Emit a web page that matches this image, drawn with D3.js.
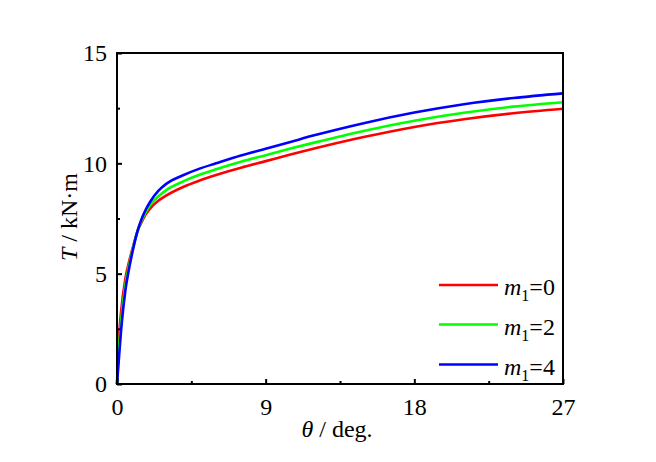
<!DOCTYPE html>
<html><head><meta charset="utf-8">
<script src="https://cdn.jsdelivr.net/npm/d3@7/dist/d3.min.js"></script>
<style>body{margin:0;background:#fff}svg{display:block}svg text{font-family:"Liberation Serif","Times New Roman",serif;fill:#000}</style>
</head><body><svg id="c" width="656" height="462"></svg>
<script>
const theta = [0, 0.1, 0.25, 0.5, 0.75, 1.0, 1.25, 1.5, 1.75, 2.0, 2.5, 3, 4, 5, 6, 7.5, 9, 10.5, 12, 15, 18, 21, 24, 27];
const m0 = [0, 1.9, 3.3, 4.75, 5.6, 6.3, 6.95, 7.35, 7.7, 7.95, 8.3, 8.55, 8.93, 9.22, 9.47, 9.8, 10.1, 10.4, 10.68, 11.2, 11.65, 12.0, 12.27, 12.47];
const m2 = [0, 1.4, 2.85, 4.45, 5.45, 6.25, 6.95, 7.42, 7.8, 8.1, 8.5, 8.8, 9.18, 9.48, 9.73, 10.07, 10.37, 10.67, 10.95, 11.48, 11.93, 12.29, 12.57, 12.77];
const m4 = [0, 1.0, 2.45, 4.2, 5.3, 6.2, 6.95, 7.5, 7.92, 8.25, 8.75, 9.08, 9.46, 9.76, 10.0, 10.35, 10.66, 10.97, 11.28, 11.83, 12.3, 12.68, 12.96, 13.17];
const seriesNames = ["0", "2", "4"];
const seriesColors = ["#ff0000", "#00ff00", "#0000ff"];
const xTicks = [0, 9, 18, 27];
const xMinor = [4.5, 13.5, 22.5];
const yTicks = [0, 5, 10, 15];
const yMinor = [2.5, 7.5, 12.5];

const L = 117, R = 563, T = 53, B = 384;
const FS = "24px";
const svg = d3.select("#c");
const x = d3.scaleLinear().domain([0, 27]).range([L, R]);
const y = d3.scaleLinear().domain([0, 15]).range([B, T]);

const series = [m0, m2, m4];
const line = d3.line().x((d, i) => x(theta[i])).y(d => y(d)).curve(d3.curveMonotoneX);
series.forEach((s, k) => {
  svg.append("path").attr("d", line(s)).attr("fill", "none")
    .attr("stroke", seriesColors[k]).attr("stroke-width", 2.6);
});

// frame
svg.append("rect").attr("x", L).attr("y", T).attr("width", R - L).attr("height", B - T)
  .attr("fill", "none").attr("stroke", "#000").attr("stroke-width", 2);

// ticks
const gx = svg.append("g").attr("transform", `translate(0,${B})`)
  .call(d3.axisBottom(x).tickValues(xTicks).tickSize(-5).tickPadding(14).tickFormat(d3.format("d")));
const gxm = svg.append("g").attr("transform", `translate(0,${B})`)
  .call(d3.axisBottom(x).tickValues(xMinor).tickSize(-3).tickFormat(""));
const gy = svg.append("g").attr("transform", `translate(${L},0)`)
  .call(d3.axisLeft(y).tickValues(yTicks).tickSize(-5).tickPadding(10).tickFormat(d3.format("d")));
const gym = svg.append("g").attr("transform", `translate(${L},0)`)
  .call(d3.axisLeft(y).tickValues(yMinor).tickSize(-3).tickFormat(""));
[gx, gxm, gy, gym].forEach(g => {
  g.select(".domain").remove();
  g.attr("font-size", null).attr("font-family", null);
  g.selectAll("line").attr("stroke", "#000").attr("stroke-width", 2);
  g.selectAll("text").style("font-size", FS).style("font-family", "'Liberation Serif', serif").attr("fill", "#000");
});

// axis titles
svg.append("text").attr("x", 337).attr("y", 437).attr("text-anchor", "middle").style("font-size", FS)
  .html('<tspan font-style="italic">θ</tspan> / deg.');
svg.append("text").attr("transform", "translate(77,217) rotate(-90)").attr("text-anchor", "middle").style("font-size", FS)
  .html('<tspan font-style="italic">T</tspan> / kN·m');

// legend
const ly = [285, 324.5, 364.5];
seriesNames.forEach((n, k) => {
  svg.append("line").attr("x1", 439).attr("x2", 498).attr("y1", ly[k]).attr("y2", ly[k])
    .attr("stroke", seriesColors[k]).attr("stroke-width", 2.6);
  const t = svg.append("text").attr("x", 504).attr("y", ly[k] + 10).style("font-size", FS);
  t.append("tspan").attr("font-style", "italic").text("m");
  t.append("tspan").style("font-size", "16px").attr("dy", 6).text("1");
  t.append("tspan").attr("dy", -6).text("=" + n);
});
</script></body></html>
